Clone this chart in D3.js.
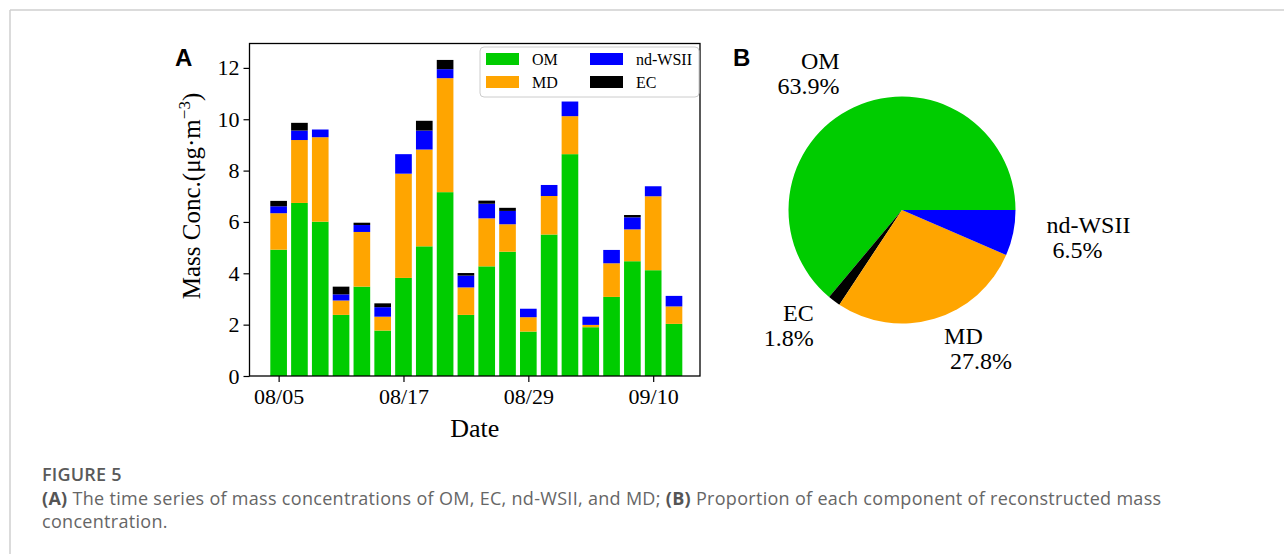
<!DOCTYPE html>
<html>
<head>
<meta charset="utf-8">
<script src="https://cdn.jsdelivr.net/npm/d3@7/dist/d3.min.js"></script>
<style>
  html, body { margin: 0; padding: 0; background: #fff; }
  svg { display: block; }
</style>
</head>
<body>
<svg id="chart" width="1284" height="554"></svg>
<script>
// ---------------- data ----------------
const dates = ["2021-08-05","2021-08-07","2021-08-09","2021-08-11","2021-08-13","2021-08-15","2021-08-17","2021-08-19","2021-08-21","2021-08-23",
               "2021-08-25","2021-08-27","2021-08-29","2021-08-31","2021-09-02","2021-09-04","2021-09-06","2021-09-08","2021-09-10","2021-09-12"];
const OM     = [4.92,6.74,6.01,2.38,3.48,1.77,3.82,5.05,7.16,2.38,4.27,4.84,1.73,5.51,8.64,1.90,3.08,4.47,4.12,2.03];
const MD     = [1.42,2.45,3.29,0.56,2.13,0.54,4.06,3.77,4.44,1.07,1.87,1.07,0.56,1.50,1.48,0.09,1.31,1.24,2.88,0.68];
const ndWSII = [0.27,0.37,0.30,0.24,0.27,0.37,0.76,0.74,0.35,0.46,0.57,0.52,0.33,0.43,0.57,0.32,0.52,0.47,0.39,0.41];
const EC     = [0.21,0.30,0.00,0.30,0.09,0.15,0.00,0.38,0.36,0.10,0.12,0.12,0.00,0.00,0.00,0.00,0.00,0.09,0.00,0.00];
const seriesKeys   = ["OM","MD","nd-WSII","EC"];
const seriesColors = ["#00cc00","#ffa500","#0000ff","#000000"];
const yTicks = [0,2,4,6,8,10,12];
const xTickDates = ["2021-08-05","2021-08-17","2021-08-29","2021-09-10"];

const pieLabels = ["OM","EC","MD","nd-WSII"];
const pieValues = [63.9,1.8,27.8,6.5];
const pieColors = ["#00cc00","#000000","#ffa500","#0000ff"];

// ---------------- setup ----------------
const svg = d3.select("#chart");
const serif = "'Liberation Serif','Times New Roman',Times,serif";
const sans = "'Liberation Sans',Arial,Helvetica,sans-serif";
const capFont = "'Open Sans','Noto Sans',sans-serif";

svg.append("rect").attr("width",1284).attr("height",554).attr("fill","#fff");
// page frame
svg.append("line").attr("x1",10).attr("y1",10).attr("x2",1284).attr("y2",10).attr("stroke","#cfcfcf").attr("stroke-width",1.5);
svg.append("line").attr("x1",10).attr("y1",10).attr("x2",10).attr("y2",554).attr("stroke","#cfcfcf").attr("stroke-width",1.5);

// ---------------- panel A ----------------
const parse = d3.utcParse("%Y-%m-%d");
const dayMs = 864e5;
const dts = dates.map(parse);
const plot = {left:249.5, right:700, top:43.5, bottom:376};

const x = d3.scaleUtc()
  .domain([new Date(+dts[0] - 2.8*dayMs), new Date(+dts[dts.length-1] + 2.5*dayMs)])
  .range([plot.left, plot.right]);
const y = d3.scaleLinear().domain([0, 12.95]).range([plot.bottom, plot.top]);

const rows = dates.map((d,i)=>({date:dts[i], "OM":OM[i], "MD":MD[i], "nd-WSII":ndWSII[i], "EC":EC[i]}));
const stacked = d3.stack().keys(seriesKeys)(rows);
const barW = x(new Date(+dts[0] + 1.6*dayMs)) - x(dts[0]);

const gBars = svg.append("g");
stacked.forEach((layer, li) => {
  gBars.append("g").attr("fill", seriesColors[li])
    .selectAll("rect").data(layer).join("rect")
    .attr("x", d => x(d.data.date) - barW/2)
    .attr("width", barW)
    .attr("y", d => y(d[1]))
    .attr("height", d => Math.max(0, y(d[0]) - y(d[1])));
});

// frame
svg.append("rect").attr("x",plot.left).attr("y",plot.top)
  .attr("width",plot.right-plot.left).attr("height",plot.bottom-plot.top)
  .attr("fill","none").attr("stroke","#000").attr("stroke-width",1.3);

const yAxis = svg.append("g").attr("transform",`translate(${plot.left},0)`)
  .call(d3.axisLeft(y).tickValues(yTicks).tickSizeOuter(0).tickSize(6).tickPadding(4));
yAxis.select(".domain").remove();
yAxis.selectAll("text").attr("font-family",serif).attr("font-size",22).attr("fill","#000");
yAxis.selectAll("line").attr("stroke","#000").attr("stroke-width",1.2);

const xAxis = svg.append("g").attr("transform",`translate(0,${plot.bottom})`)
  .call(d3.axisBottom(x).tickValues(xTickDates.map(parse)).tickFormat(d3.utcFormat("%m/%d")).tickSizeOuter(0).tickSize(6).tickPadding(6));
xAxis.select(".domain").remove();
xAxis.selectAll("text").attr("font-family",serif).attr("font-size",22).attr("fill","#000");
xAxis.selectAll("line").attr("stroke","#000").attr("stroke-width",1.2);

// axis labels
svg.append("text").attr("x",(plot.left+plot.right)/2).attr("y",437)
  .attr("text-anchor","middle").attr("font-family",serif).attr("font-size",26).text("Date");
const yl = svg.append("text").attr("transform",`translate(200,196) rotate(-90)`)
  .attr("text-anchor","middle").attr("font-family",serif).attr("font-size",25);
yl.append("tspan").text("Mass Conc.(μg·m");
yl.append("tspan").attr("font-size",17).attr("dy",-10).text("−3");
yl.append("tspan").attr("dy",10).text(")");

// panel letters
svg.append("text").attr("x",175).attr("y",66).attr("font-family",sans).attr("font-weight","bold").attr("font-size",24).text("A");
svg.append("text").attr("x",733).attr("y",66).attr("font-family",sans).attr("font-weight","bold").attr("font-size",24).text("B");

// legend
const leg = svg.append("g").attr("transform","translate(480,47)");
leg.append("rect").attr("width",219).attr("height",50).attr("rx",4)
  .attr("fill","#fff").attr("fill-opacity",0.8).attr("stroke","#cccccc").attr("stroke-width",1);
const legOrder = [["OM",0,0],["MD",0,1],["nd-WSII",1,0],["EC",1,1]];
legOrder.forEach(([k,col,row]) => {
  const ci = seriesKeys.indexOf(k);
  const gx = 6 + col*104, gy = 6 + row*23;
  leg.append("rect").attr("x",gx).attr("y",gy).attr("width",33).attr("height",12).attr("fill",seriesColors[ci]);
  leg.append("text").attr("x",gx+46).attr("y",gy+11.5).attr("font-family",serif).attr("font-size",16).text(k);
});

// ---------------- panel B ----------------
const cx = 902, cy = 210, R = 113.5;
const pie = d3.pie().sort(null).value(d=>d).startAngle(Math.PI/2).endAngle(Math.PI/2 - 2*Math.PI);
const arcs = pie(pieValues);
const arc = d3.arc().innerRadius(0).outerRadius(R);
const gp = svg.append("g").attr("transform",`translate(${cx},${cy})`);
gp.selectAll("path").data(arcs).join("path")
  .attr("d", arc).attr("fill",(d,i)=>pieColors[i]);

const labR = R*1.3;
arcs.forEach((a,i) => {
  const mid = (a.startAngle + a.endAngle)/2;  // d3 angle: clockwise from 12 o'clock
  const lx = labR*Math.sin(mid), ly = -labR*Math.cos(mid);
  const anchor = lx > 0 ? "start" : "end";
  const t = gp.append("text").attr("font-family",serif).attr("font-size",24).attr("text-anchor",anchor);
  t.append("tspan").attr("x",lx).attr("y",ly-7).text(pieLabels[i]);
  t.append("tspan").attr("x",lx).attr("y",ly+18).text("\u00A0" + pieValues[i].toFixed(1) + "%");
});

// ---------------- caption ----------------
svg.append("text").attr("x",42).attr("y",481).attr("font-family",capFont).attr("font-weight",600)
  .attr("font-size",18).attr("fill","#5a5a5a").attr("letter-spacing",0.2).text("FIGURE 5");
const c1 = svg.append("text").attr("x",42).attr("y",505).attr("font-family",capFont).attr("font-size",18)
  .attr("letter-spacing",0.3).attr("fill","#666");
c1.append("tspan").attr("font-weight",700).attr("fill","#555").text("(A)");
c1.append("tspan").text(" The time series of mass concentrations of OM, EC, nd-WSII, and MD; ");
c1.append("tspan").attr("font-weight",700).attr("fill","#555").text("(B)");
c1.append("tspan").text(" Proportion of each component of reconstructed mass");
svg.append("text").attr("x",42).attr("y",528).attr("font-family",capFont).attr("font-size",18)
  .attr("letter-spacing",0.3).attr("fill","#666").text("concentration.");
</script>
</body>
</html>
